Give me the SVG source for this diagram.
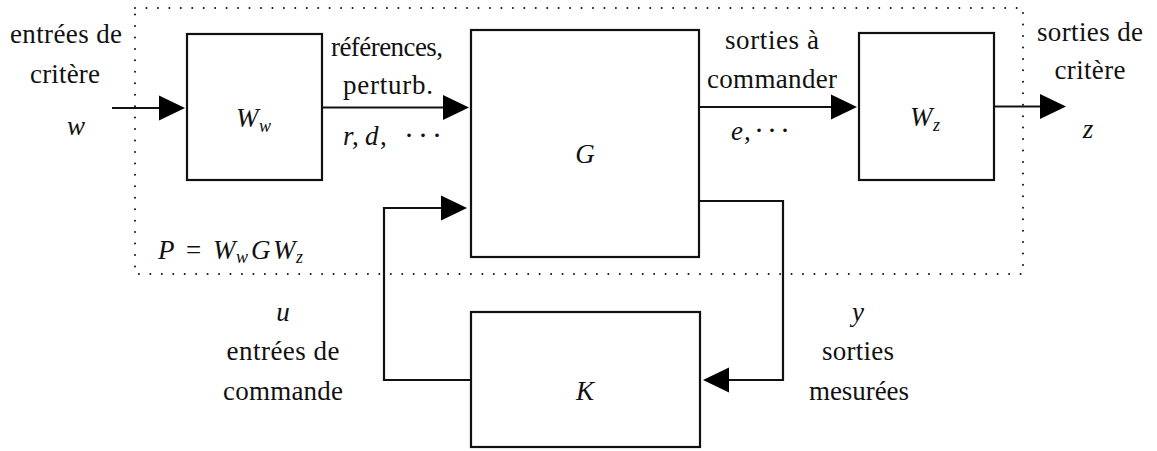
<svg xmlns="http://www.w3.org/2000/svg" width="1157" height="451" viewBox="0 0 1157 451">
<style>
.box{fill:none;stroke:#111;stroke-width:2.2}
.wire{fill:none;stroke:#111;stroke-width:2.2}
.dots{fill:none;stroke:#111;stroke-width:2;stroke-linecap:round;stroke-dasharray:0 11.45}
text{font-family:"Liberation Serif","Times New Roman",serif;font-size:27px;fill:#111}
.m{font-style:italic;font-size:27px}
.c{text-anchor:middle}
.sub{font-size:18px;font-style:italic}
.cd{font-size:30px;font-style:normal}
</style>
<defs>
<marker id="ah" markerUnits="userSpaceOnUse" markerWidth="27" markerHeight="26" refX="23" refY="12.5" orient="auto" overflow="visible">
<path d="M0,0 L26,12.5 L0,25 Z" fill="#000"/>
</marker>
</defs>
<rect width="1157" height="451" fill="#fff"/>
<g id="plant-boundary">
<rect class="dots" x="135" y="8" width="888" height="266"/>
<text x="158" y="259"><tspan class="m">P</tspan><tspan x="186">=</tspan><tspan x="213" class="m">W</tspan><tspan x="236" dy="4" class="sub">w</tspan><tspan x="251" dy="-4" class="m">G</tspan><tspan x="273" class="m">W</tspan><tspan x="296" dy="4" class="sub">z</tspan></text>
</g>
<g id="connectors">
<path class="wire" d="M112,108 H182" marker-end="url(#ah)"/>
<path class="wire" d="M323,107.5 H466" marker-end="url(#ah)"/>
<path class="wire" d="M700,107 H854" marker-end="url(#ah)"/>
<path class="wire" d="M994,106.5 H1063" marker-end="url(#ah)"/>
<path class="wire" d="M471,380 H384 V208 H464" marker-end="url(#ah)"/>
<path class="wire" d="M699,201 H783 V380 H706" marker-end="url(#ah)"/>
</g>
<g id="node-Ww">
<rect class="box" x="187" y="34" width="135" height="146"/>
<text x="236" y="127"><tspan class="m">W</tspan><tspan x="259" dy="5" class="sub">w</tspan></text>
</g>
<g id="node-G">
<rect class="box" x="471" y="30" width="228" height="227"/>
<text class="c m" x="585" y="163">G</text>
</g>
<g id="node-Wz">
<rect class="box" x="859" y="33" width="135" height="147"/>
<text x="910" y="126"><tspan class="m">W</tspan><tspan x="933" dy="5" class="sub">z</tspan></text>
</g>
<g id="node-K">
<rect class="box" x="471" y="312" width="229" height="135"/>
<text class="c m" x="585" y="400">K</text>
</g>
<g id="labels">
<text class="c" x="66" y="43" textLength="112" lengthAdjust="spacing">entrées de</text>
<text class="c" x="65" y="83" textLength="70" lengthAdjust="spacing">critère</text>
<text class="c m" x="76" y="135">w</text>
<text class="c" x="387" y="56" textLength="112" lengthAdjust="spacing">références,</text>
<text class="c" x="388" y="94" textLength="90" lengthAdjust="spacing">perturb.</text>
<text x="343" y="145"><tspan class="m">r</tspan><tspan x="352">,</tspan><tspan x="365" class="m">d</tspan><tspan x="380">,</tspan><tspan x="404" class="cd">·</tspan><tspan x="418" class="cd">·</tspan><tspan x="432" class="cd">·</tspan></text>
<text class="c" x="772" y="49" textLength="94" lengthAdjust="spacing">sorties à</text>
<text class="c" x="772" y="88" textLength="130" lengthAdjust="spacing">commander</text>
<text x="731" y="140"><tspan class="m">e</tspan><tspan x="744">,</tspan><tspan x="754" class="cd">·</tspan><tspan x="767" class="cd">·</tspan><tspan x="780" class="cd">·</tspan></text>
<text class="c" x="1090" y="41" textLength="106" lengthAdjust="spacing">sorties de</text>
<text class="c" x="1090" y="79" textLength="71" lengthAdjust="spacing">critère</text>
<text class="c m" x="1088" y="138">z</text>
<text class="c m" x="283" y="321">u</text>
<text class="c" x="283" y="360" textLength="113" lengthAdjust="spacing">entrées de</text>
<text class="c" x="283" y="400" textLength="120" lengthAdjust="spacing">commande</text>
<text class="c m" x="858" y="321">y</text>
<text class="c" x="858" y="360" textLength="72" lengthAdjust="spacing">sorties</text>
<text class="c" x="859" y="400" textLength="100" lengthAdjust="spacing">mesurées</text>
</g>
</svg>
